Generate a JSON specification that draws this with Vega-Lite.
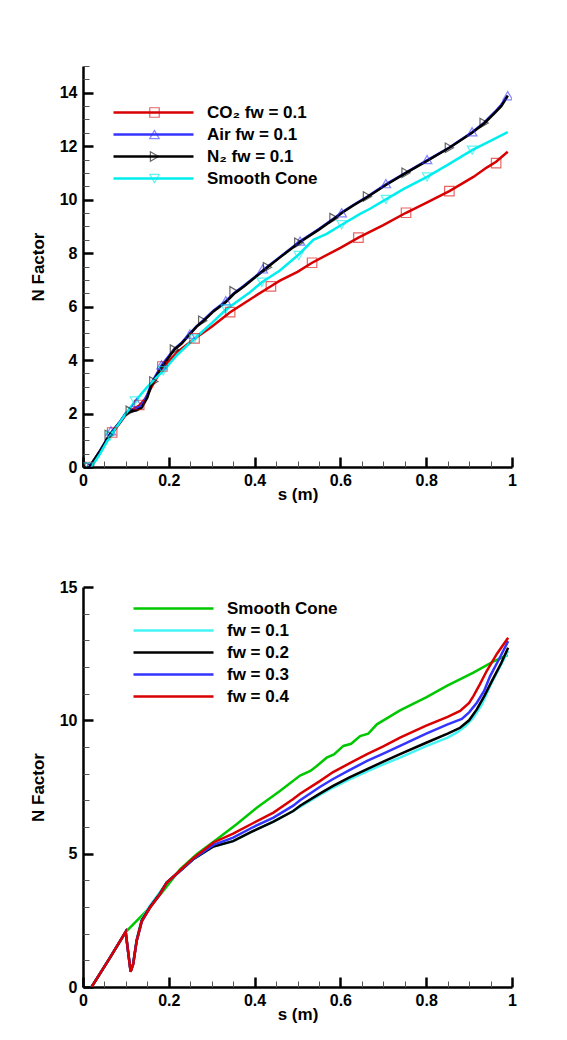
{
  "$schema": "https://vega.github.io/schema/vega-lite/v6.json",
  "padding": {"left": 29, "top": 65, "right": 10, "bottom": 10},
  "spacing": 77,
  "resolve": {
    "scale": {"color": "independent", "shape": "independent"},
    "legend": {"color": "independent", "shape": "independent"}
  },
  "config": {
    "view": {"stroke": null},
    "font": "Liberation Sans",
    "axis": {
      "grid": false,
      "zindex": 1,
      "domainColor": "black",
      "domainWidth": 2.5,
      "labelFont": "Liberation Sans",
      "labelFontWeight": "bold",
      "labelFontSize": 16,
      "labelColor": "black",
      "titleFont": "Liberation Sans",
      "titleFontWeight": "bold",
      "titleFontSize": 17,
      "titleColor": "black",
      "labelFlush": false,
      "labelOverlap": false,
      "labelBound": false,
      "ticks": true,
      "tickSize": -10,
      "tickWidth": 2.5,
      "tickColor": "black"
    },
    "legend": {
      "labelFont": "Liberation Sans",
      "labelFontWeight": "bold",
      "labelFontSize": 17,
      "labelColor": "black",
      "padding": 0,
      "rowPadding": 4
    }
  },
  "datasets": {
    "topLines": [
      {"k": "CO₂ fw = 0.1", "s": 0.015, "n": 0},
      {"k": "CO₂ fw = 0.1", "s": 0.04, "n": 0.6},
      {"k": "CO₂ fw = 0.1", "s": 0.068, "n": 1.25},
      {"k": "CO₂ fw = 0.1", "s": 0.1, "n": 1.95},
      {"k": "CO₂ fw = 0.1", "s": 0.115, "n": 2.15},
      {"k": "CO₂ fw = 0.1", "s": 0.131, "n": 2.3},
      {"k": "CO₂ fw = 0.1", "s": 0.145, "n": 2.55},
      {"k": "CO₂ fw = 0.1", "s": 0.16, "n": 3.0},
      {"k": "CO₂ fw = 0.1", "s": 0.185, "n": 3.7},
      {"k": "CO₂ fw = 0.1", "s": 0.22, "n": 4.3},
      {"k": "CO₂ fw = 0.1", "s": 0.26, "n": 4.8},
      {"k": "CO₂ fw = 0.1", "s": 0.3, "n": 5.25},
      {"k": "CO₂ fw = 0.1", "s": 0.343, "n": 5.79},
      {"k": "CO₂ fw = 0.1", "s": 0.4, "n": 6.38},
      {"k": "CO₂ fw = 0.1", "s": 0.438, "n": 6.76},
      {"k": "CO₂ fw = 0.1", "s": 0.459, "n": 6.97},
      {"k": "CO₂ fw = 0.1", "s": 0.5, "n": 7.3},
      {"k": "CO₂ fw = 0.1", "s": 0.534, "n": 7.64},
      {"k": "CO₂ fw = 0.1", "s": 0.6, "n": 8.2},
      {"k": "CO₂ fw = 0.1", "s": 0.642, "n": 8.58},
      {"k": "CO₂ fw = 0.1", "s": 0.7, "n": 9.05},
      {"k": "CO₂ fw = 0.1", "s": 0.753, "n": 9.51},
      {"k": "CO₂ fw = 0.1", "s": 0.8, "n": 9.88},
      {"k": "CO₂ fw = 0.1", "s": 0.854, "n": 10.32},
      {"k": "CO₂ fw = 0.1", "s": 0.91, "n": 10.85},
      {"k": "CO₂ fw = 0.1", "s": 0.941, "n": 11.2},
      {"k": "CO₂ fw = 0.1", "s": 0.963, "n": 11.42},
      {"k": "CO₂ fw = 0.1", "s": 0.99, "n": 11.79},
      {"k": "Air fw = 0.1", "s": 0.015, "n": 0},
      {"k": "Air fw = 0.1", "s": 0.04, "n": 0.62},
      {"k": "Air fw = 0.1", "s": 0.062, "n": 1.22},
      {"k": "Air fw = 0.1", "s": 0.085, "n": 1.67},
      {"k": "Air fw = 0.1", "s": 0.1, "n": 2.02},
      {"k": "Air fw = 0.1", "s": 0.11, "n": 2.1},
      {"k": "Air fw = 0.1", "s": 0.125, "n": 2.18},
      {"k": "Air fw = 0.1", "s": 0.137, "n": 2.3},
      {"k": "Air fw = 0.1", "s": 0.15, "n": 2.7},
      {"k": "Air fw = 0.1", "s": 0.16, "n": 3.15},
      {"k": "Air fw = 0.1", "s": 0.183, "n": 3.8},
      {"k": "Air fw = 0.1", "s": 0.2, "n": 4.15},
      {"k": "Air fw = 0.1", "s": 0.213, "n": 4.42},
      {"k": "Air fw = 0.1", "s": 0.23, "n": 4.65},
      {"k": "Air fw = 0.1", "s": 0.249, "n": 4.99},
      {"k": "Air fw = 0.1", "s": 0.265, "n": 5.27},
      {"k": "Air fw = 0.1", "s": 0.28, "n": 5.48},
      {"k": "Air fw = 0.1", "s": 0.304, "n": 5.85},
      {"k": "Air fw = 0.1", "s": 0.333, "n": 6.2},
      {"k": "Air fw = 0.1", "s": 0.352, "n": 6.5},
      {"k": "Air fw = 0.1", "s": 0.375, "n": 6.78},
      {"k": "Air fw = 0.1", "s": 0.4, "n": 7.1},
      {"k": "Air fw = 0.1", "s": 0.43, "n": 7.49},
      {"k": "Air fw = 0.1", "s": 0.46, "n": 7.87},
      {"k": "Air fw = 0.1", "s": 0.506, "n": 8.44},
      {"k": "Air fw = 0.1", "s": 0.55, "n": 8.9},
      {"k": "Air fw = 0.1", "s": 0.585, "n": 9.3},
      {"k": "Air fw = 0.1", "s": 0.603, "n": 9.52},
      {"k": "Air fw = 0.1", "s": 0.63, "n": 9.8},
      {"k": "Air fw = 0.1", "s": 0.663, "n": 10.12},
      {"k": "Air fw = 0.1", "s": 0.706, "n": 10.57},
      {"k": "Air fw = 0.1", "s": 0.753, "n": 11.01},
      {"k": "Air fw = 0.1", "s": 0.802, "n": 11.47},
      {"k": "Air fw = 0.1", "s": 0.854, "n": 11.95},
      {"k": "Air fw = 0.1", "s": 0.907, "n": 12.52},
      {"k": "Air fw = 0.1", "s": 0.935, "n": 12.88},
      {"k": "Air fw = 0.1", "s": 0.96, "n": 13.28},
      {"k": "Air fw = 0.1", "s": 0.975, "n": 13.55},
      {"k": "Air fw = 0.1", "s": 0.99, "n": 13.9},
      {"k": "N₂ fw = 0.1", "s": 0.015, "n": 0},
      {"k": "N₂ fw = 0.1", "s": 0.04, "n": 0.6},
      {"k": "N₂ fw = 0.1", "s": 0.062, "n": 1.2},
      {"k": "N₂ fw = 0.1", "s": 0.085, "n": 1.65},
      {"k": "N₂ fw = 0.1", "s": 0.1, "n": 2.0},
      {"k": "N₂ fw = 0.1", "s": 0.11, "n": 2.07},
      {"k": "N₂ fw = 0.1", "s": 0.125, "n": 2.12},
      {"k": "N₂ fw = 0.1", "s": 0.137, "n": 2.22},
      {"k": "N₂ fw = 0.1", "s": 0.15, "n": 2.6},
      {"k": "N₂ fw = 0.1", "s": 0.16, "n": 3.1},
      {"k": "N₂ fw = 0.1", "s": 0.183, "n": 3.72},
      {"k": "N₂ fw = 0.1", "s": 0.2, "n": 4.1},
      {"k": "N₂ fw = 0.1", "s": 0.213, "n": 4.39},
      {"k": "N₂ fw = 0.1", "s": 0.23, "n": 4.62},
      {"k": "N₂ fw = 0.1", "s": 0.249, "n": 4.97},
      {"k": "N₂ fw = 0.1", "s": 0.265, "n": 5.25},
      {"k": "N₂ fw = 0.1", "s": 0.28, "n": 5.45},
      {"k": "N₂ fw = 0.1", "s": 0.304, "n": 5.82},
      {"k": "N₂ fw = 0.1", "s": 0.333, "n": 6.17},
      {"k": "N₂ fw = 0.1", "s": 0.352, "n": 6.48},
      {"k": "N₂ fw = 0.1", "s": 0.375, "n": 6.75},
      {"k": "N₂ fw = 0.1", "s": 0.4, "n": 7.08},
      {"k": "N₂ fw = 0.1", "s": 0.43, "n": 7.47},
      {"k": "N₂ fw = 0.1", "s": 0.46, "n": 7.85},
      {"k": "N₂ fw = 0.1", "s": 0.506, "n": 8.42},
      {"k": "N₂ fw = 0.1", "s": 0.55, "n": 8.88},
      {"k": "N₂ fw = 0.1", "s": 0.585, "n": 9.28},
      {"k": "N₂ fw = 0.1", "s": 0.603, "n": 9.5},
      {"k": "N₂ fw = 0.1", "s": 0.63, "n": 9.78},
      {"k": "N₂ fw = 0.1", "s": 0.663, "n": 10.1},
      {"k": "N₂ fw = 0.1", "s": 0.706, "n": 10.55},
      {"k": "N₂ fw = 0.1", "s": 0.753, "n": 11.0},
      {"k": "N₂ fw = 0.1", "s": 0.802, "n": 11.45},
      {"k": "N₂ fw = 0.1", "s": 0.854, "n": 11.94},
      {"k": "N₂ fw = 0.1", "s": 0.907, "n": 12.5},
      {"k": "N₂ fw = 0.1", "s": 0.935, "n": 12.85},
      {"k": "N₂ fw = 0.1", "s": 0.96, "n": 13.25},
      {"k": "N₂ fw = 0.1", "s": 0.975, "n": 13.5},
      {"k": "N₂ fw = 0.1", "s": 0.99, "n": 13.88},
      {"k": "Smooth Cone", "s": 0.02, "n": 0},
      {"k": "Smooth Cone", "s": 0.04, "n": 0.5},
      {"k": "Smooth Cone", "s": 0.063, "n": 1.15},
      {"k": "Smooth Cone", "s": 0.085, "n": 1.65},
      {"k": "Smooth Cone", "s": 0.1, "n": 2.0},
      {"k": "Smooth Cone", "s": 0.121, "n": 2.45},
      {"k": "Smooth Cone", "s": 0.15, "n": 3.0},
      {"k": "Smooth Cone", "s": 0.187, "n": 3.6},
      {"k": "Smooth Cone", "s": 0.22, "n": 4.2},
      {"k": "Smooth Cone", "s": 0.259, "n": 4.79},
      {"k": "Smooth Cone", "s": 0.3, "n": 5.38},
      {"k": "Smooth Cone", "s": 0.333, "n": 5.88},
      {"k": "Smooth Cone", "s": 0.36, "n": 6.2},
      {"k": "Smooth Cone", "s": 0.39, "n": 6.55},
      {"k": "Smooth Cone", "s": 0.417, "n": 6.91},
      {"k": "Smooth Cone", "s": 0.459, "n": 7.35},
      {"k": "Smooth Cone", "s": 0.503, "n": 7.95},
      {"k": "Smooth Cone", "s": 0.537, "n": 8.5},
      {"k": "Smooth Cone", "s": 0.568, "n": 8.72},
      {"k": "Smooth Cone", "s": 0.603, "n": 9.06},
      {"k": "Smooth Cone", "s": 0.646, "n": 9.47},
      {"k": "Smooth Cone", "s": 0.669, "n": 9.66},
      {"k": "Smooth Cone", "s": 0.706, "n": 10.01},
      {"k": "Smooth Cone", "s": 0.75, "n": 10.42},
      {"k": "Smooth Cone", "s": 0.802, "n": 10.85},
      {"k": "Smooth Cone", "s": 0.85, "n": 11.3},
      {"k": "Smooth Cone", "s": 0.907, "n": 11.85},
      {"k": "Smooth Cone", "s": 0.95, "n": 12.2},
      {"k": "Smooth Cone", "s": 0.99, "n": 12.53}
    ],
    "topMarks": [
      {"k": "CO₂ fw = 0.1", "s": 0.014, "n": 0},
      {"k": "CO₂ fw = 0.1", "s": 0.068, "n": 1.29},
      {"k": "CO₂ fw = 0.1", "s": 0.131, "n": 2.32},
      {"k": "CO₂ fw = 0.1", "s": 0.185, "n": 3.76},
      {"k": "CO₂ fw = 0.1", "s": 0.26, "n": 4.81},
      {"k": "CO₂ fw = 0.1", "s": 0.343, "n": 5.79},
      {"k": "CO₂ fw = 0.1", "s": 0.438, "n": 6.76},
      {"k": "CO₂ fw = 0.1", "s": 0.534, "n": 7.64},
      {"k": "CO₂ fw = 0.1", "s": 0.642, "n": 8.58},
      {"k": "CO₂ fw = 0.1", "s": 0.753, "n": 9.51},
      {"k": "CO₂ fw = 0.1", "s": 0.854, "n": 10.32},
      {"k": "CO₂ fw = 0.1", "s": 0.963, "n": 11.37},
      {"k": "Air fw = 0.1", "s": 0.014, "n": 0},
      {"k": "Air fw = 0.1", "s": 0.065, "n": 1.35},
      {"k": "Air fw = 0.1", "s": 0.125, "n": 2.41},
      {"k": "Air fw = 0.1", "s": 0.183, "n": 3.82},
      {"k": "Air fw = 0.1", "s": 0.249, "n": 4.97},
      {"k": "Air fw = 0.1", "s": 0.333, "n": 6.22},
      {"k": "Air fw = 0.1", "s": 0.419, "n": 7.41},
      {"k": "Air fw = 0.1", "s": 0.506, "n": 8.45},
      {"k": "Air fw = 0.1", "s": 0.603, "n": 9.51},
      {"k": "Air fw = 0.1", "s": 0.706, "n": 10.6},
      {"k": "Air fw = 0.1", "s": 0.802, "n": 11.5},
      {"k": "Air fw = 0.1", "s": 0.907, "n": 12.54},
      {"k": "Air fw = 0.1", "s": 0.99, "n": 13.89},
      {"k": "N₂ fw = 0.1", "s": 0.014, "n": 0},
      {"k": "N₂ fw = 0.1", "s": 0.061, "n": 1.2},
      {"k": "N₂ fw = 0.1", "s": 0.11, "n": 2.1},
      {"k": "N₂ fw = 0.1", "s": 0.165, "n": 3.2},
      {"k": "N₂ fw = 0.1", "s": 0.213, "n": 4.39},
      {"k": "N₂ fw = 0.1", "s": 0.279, "n": 5.47},
      {"k": "N₂ fw = 0.1", "s": 0.352, "n": 6.57},
      {"k": "N₂ fw = 0.1", "s": 0.43, "n": 7.47},
      {"k": "N₂ fw = 0.1", "s": 0.503, "n": 8.39},
      {"k": "N₂ fw = 0.1", "s": 0.585, "n": 9.31},
      {"k": "N₂ fw = 0.1", "s": 0.663, "n": 10.12},
      {"k": "N₂ fw = 0.1", "s": 0.753, "n": 11.01},
      {"k": "N₂ fw = 0.1", "s": 0.854, "n": 11.94},
      {"k": "N₂ fw = 0.1", "s": 0.935, "n": 12.87},
      {"k": "Smooth Cone", "s": 0.014, "n": 0},
      {"k": "Smooth Cone", "s": 0.063, "n": 1.16},
      {"k": "Smooth Cone", "s": 0.121, "n": 2.47},
      {"k": "Smooth Cone", "s": 0.187, "n": 3.6},
      {"k": "Smooth Cone", "s": 0.259, "n": 4.79},
      {"k": "Smooth Cone", "s": 0.333, "n": 5.91},
      {"k": "Smooth Cone", "s": 0.417, "n": 6.91},
      {"k": "Smooth Cone", "s": 0.503, "n": 7.91},
      {"k": "Smooth Cone", "s": 0.603, "n": 9.06},
      {"k": "Smooth Cone", "s": 0.706, "n": 10.01},
      {"k": "Smooth Cone", "s": 0.802, "n": 10.85},
      {"k": "Smooth Cone", "s": 0.907, "n": 11.85}
    ],
    "bottomLines": [
      {"k": "Smooth Cone", "s": 0.02, "n": 0},
      {"k": "Smooth Cone", "s": 0.063, "n": 1.1},
      {"k": "Smooth Cone", "s": 0.1, "n": 2.07},
      {"k": "Smooth Cone", "s": 0.148, "n": 2.85},
      {"k": "Smooth Cone", "s": 0.187, "n": 3.6},
      {"k": "Smooth Cone", "s": 0.226, "n": 4.41},
      {"k": "Smooth Cone", "s": 0.265, "n": 4.98},
      {"k": "Smooth Cone", "s": 0.312, "n": 5.54},
      {"k": "Smooth Cone", "s": 0.358, "n": 6.1},
      {"k": "Smooth Cone", "s": 0.405, "n": 6.72},
      {"k": "Smooth Cone", "s": 0.459, "n": 7.35},
      {"k": "Smooth Cone", "s": 0.506, "n": 7.93},
      {"k": "Smooth Cone", "s": 0.53, "n": 8.1},
      {"k": "Smooth Cone", "s": 0.545, "n": 8.29},
      {"k": "Smooth Cone", "s": 0.568, "n": 8.6},
      {"k": "Smooth Cone", "s": 0.585, "n": 8.72},
      {"k": "Smooth Cone", "s": 0.607, "n": 9.04},
      {"k": "Smooth Cone", "s": 0.625, "n": 9.12},
      {"k": "Smooth Cone", "s": 0.646, "n": 9.41},
      {"k": "Smooth Cone", "s": 0.665, "n": 9.5},
      {"k": "Smooth Cone", "s": 0.685, "n": 9.85},
      {"k": "Smooth Cone", "s": 0.739, "n": 10.37},
      {"k": "Smooth Cone", "s": 0.801, "n": 10.87},
      {"k": "Smooth Cone", "s": 0.848, "n": 11.29},
      {"k": "Smooth Cone", "s": 0.91, "n": 11.79},
      {"k": "Smooth Cone", "s": 0.956, "n": 12.2},
      {"k": "Smooth Cone", "s": 0.99, "n": 12.45},
      {"k": "fw = 0.1", "s": 0.02, "n": 0},
      {"k": "fw = 0.1", "s": 0.063, "n": 1.1},
      {"k": "fw = 0.1", "s": 0.0995, "n": 2.07},
      {"k": "fw = 0.1", "s": 0.104, "n": 1.47},
      {"k": "fw = 0.1", "s": 0.111, "n": 0.6},
      {"k": "fw = 0.1", "s": 0.117, "n": 0.9},
      {"k": "fw = 0.1", "s": 0.125, "n": 1.78},
      {"k": "fw = 0.1", "s": 0.137, "n": 2.55},
      {"k": "fw = 0.1", "s": 0.156, "n": 3.05},
      {"k": "fw = 0.1", "s": 0.179, "n": 3.55},
      {"k": "fw = 0.1", "s": 0.195, "n": 3.93},
      {"k": "fw = 0.1", "s": 0.226, "n": 4.35},
      {"k": "fw = 0.1", "s": 0.257, "n": 4.79},
      {"k": "fw = 0.1", "s": 0.304, "n": 5.27},
      {"k": "fw = 0.1", "s": 0.35, "n": 5.47},
      {"k": "fw = 0.1", "s": 0.397, "n": 5.85},
      {"k": "fw = 0.1", "s": 0.444, "n": 6.2},
      {"k": "fw = 0.1", "s": 0.49, "n": 6.6},
      {"k": "fw = 0.1", "s": 0.552, "n": 7.2},
      {"k": "fw = 0.1", "s": 0.583, "n": 7.48},
      {"k": "fw = 0.1", "s": 0.62, "n": 7.78},
      {"k": "fw = 0.1", "s": 0.661, "n": 8.08},
      {"k": "fw = 0.1", "s": 0.7, "n": 8.35},
      {"k": "fw = 0.1", "s": 0.739, "n": 8.6},
      {"k": "fw = 0.1", "s": 0.8, "n": 9.03},
      {"k": "fw = 0.1", "s": 0.85, "n": 9.35},
      {"k": "fw = 0.1", "s": 0.871, "n": 9.54},
      {"k": "fw = 0.1", "s": 0.891, "n": 9.78},
      {"k": "fw = 0.1", "s": 0.91, "n": 10.1},
      {"k": "fw = 0.1", "s": 0.93, "n": 10.6},
      {"k": "fw = 0.1", "s": 0.949, "n": 11.29},
      {"k": "fw = 0.1", "s": 0.97, "n": 11.95},
      {"k": "fw = 0.1", "s": 0.991, "n": 12.6},
      {"k": "fw = 0.2", "s": 0.02, "n": 0},
      {"k": "fw = 0.2", "s": 0.063, "n": 1.1},
      {"k": "fw = 0.2", "s": 0.0995, "n": 2.07},
      {"k": "fw = 0.2", "s": 0.104, "n": 1.47},
      {"k": "fw = 0.2", "s": 0.111, "n": 0.58},
      {"k": "fw = 0.2", "s": 0.117, "n": 0.87},
      {"k": "fw = 0.2", "s": 0.125, "n": 1.74},
      {"k": "fw = 0.2", "s": 0.137, "n": 2.5},
      {"k": "fw = 0.2", "s": 0.156, "n": 3.0},
      {"k": "fw = 0.2", "s": 0.179, "n": 3.5},
      {"k": "fw = 0.2", "s": 0.195, "n": 3.92},
      {"k": "fw = 0.2", "s": 0.226, "n": 4.35},
      {"k": "fw = 0.2", "s": 0.257, "n": 4.79},
      {"k": "fw = 0.2", "s": 0.304, "n": 5.27},
      {"k": "fw = 0.2", "s": 0.35, "n": 5.47},
      {"k": "fw = 0.2", "s": 0.397, "n": 5.85},
      {"k": "fw = 0.2", "s": 0.444, "n": 6.2},
      {"k": "fw = 0.2", "s": 0.49, "n": 6.6},
      {"k": "fw = 0.2", "s": 0.506, "n": 6.8},
      {"k": "fw = 0.2", "s": 0.552, "n": 7.25},
      {"k": "fw = 0.2", "s": 0.583, "n": 7.54},
      {"k": "fw = 0.2", "s": 0.62, "n": 7.85},
      {"k": "fw = 0.2", "s": 0.661, "n": 8.16},
      {"k": "fw = 0.2", "s": 0.7, "n": 8.45},
      {"k": "fw = 0.2", "s": 0.739, "n": 8.73},
      {"k": "fw = 0.2", "s": 0.8, "n": 9.16},
      {"k": "fw = 0.2", "s": 0.85, "n": 9.5},
      {"k": "fw = 0.2", "s": 0.879, "n": 9.72},
      {"k": "fw = 0.2", "s": 0.9, "n": 10.0},
      {"k": "fw = 0.2", "s": 0.918, "n": 10.41},
      {"k": "fw = 0.2", "s": 0.935, "n": 10.9},
      {"k": "fw = 0.2", "s": 0.953, "n": 11.47},
      {"k": "fw = 0.2", "s": 0.975, "n": 12.15},
      {"k": "fw = 0.2", "s": 0.991, "n": 12.72},
      {"k": "fw = 0.3", "s": 0.02, "n": 0},
      {"k": "fw = 0.3", "s": 0.063, "n": 1.1},
      {"k": "fw = 0.3", "s": 0.0995, "n": 2.07},
      {"k": "fw = 0.3", "s": 0.104, "n": 1.47},
      {"k": "fw = 0.3", "s": 0.111, "n": 0.58},
      {"k": "fw = 0.3", "s": 0.117, "n": 0.86},
      {"k": "fw = 0.3", "s": 0.125, "n": 1.72},
      {"k": "fw = 0.3", "s": 0.137, "n": 2.45},
      {"k": "fw = 0.3", "s": 0.156, "n": 2.97},
      {"k": "fw = 0.3", "s": 0.179, "n": 3.47},
      {"k": "fw = 0.3", "s": 0.195, "n": 3.91},
      {"k": "fw = 0.3", "s": 0.226, "n": 4.35},
      {"k": "fw = 0.3", "s": 0.257, "n": 4.8},
      {"k": "fw = 0.3", "s": 0.304, "n": 5.33},
      {"k": "fw = 0.3", "s": 0.35, "n": 5.6},
      {"k": "fw = 0.3", "s": 0.397, "n": 6.0},
      {"k": "fw = 0.3", "s": 0.444, "n": 6.35},
      {"k": "fw = 0.3", "s": 0.49, "n": 6.8},
      {"k": "fw = 0.3", "s": 0.506, "n": 7.0},
      {"k": "fw = 0.3", "s": 0.552, "n": 7.5},
      {"k": "fw = 0.3", "s": 0.583, "n": 7.8},
      {"k": "fw = 0.3", "s": 0.62, "n": 8.12},
      {"k": "fw = 0.3", "s": 0.661, "n": 8.47},
      {"k": "fw = 0.3", "s": 0.7, "n": 8.75},
      {"k": "fw = 0.3", "s": 0.739, "n": 9.04},
      {"k": "fw = 0.3", "s": 0.8, "n": 9.5},
      {"k": "fw = 0.3", "s": 0.85, "n": 9.85},
      {"k": "fw = 0.3", "s": 0.883, "n": 10.05},
      {"k": "fw = 0.3", "s": 0.9, "n": 10.3},
      {"k": "fw = 0.3", "s": 0.918, "n": 10.66},
      {"k": "fw = 0.3", "s": 0.935, "n": 11.1},
      {"k": "fw = 0.3", "s": 0.949, "n": 11.66},
      {"k": "fw = 0.3", "s": 0.97, "n": 12.3},
      {"k": "fw = 0.3", "s": 0.991, "n": 12.97},
      {"k": "fw = 0.4", "s": 0.02, "n": 0},
      {"k": "fw = 0.4", "s": 0.063, "n": 1.1},
      {"k": "fw = 0.4", "s": 0.0995, "n": 2.07},
      {"k": "fw = 0.4", "s": 0.104, "n": 1.47},
      {"k": "fw = 0.4", "s": 0.111, "n": 0.57},
      {"k": "fw = 0.4", "s": 0.117, "n": 0.85},
      {"k": "fw = 0.4", "s": 0.125, "n": 1.72},
      {"k": "fw = 0.4", "s": 0.137, "n": 2.47},
      {"k": "fw = 0.4", "s": 0.156, "n": 2.97},
      {"k": "fw = 0.4", "s": 0.179, "n": 3.47},
      {"k": "fw = 0.4", "s": 0.195, "n": 3.91},
      {"k": "fw = 0.4", "s": 0.226, "n": 4.37},
      {"k": "fw = 0.4", "s": 0.257, "n": 4.83},
      {"k": "fw = 0.4", "s": 0.304, "n": 5.42},
      {"k": "fw = 0.4", "s": 0.35, "n": 5.75},
      {"k": "fw = 0.4", "s": 0.397, "n": 6.15},
      {"k": "fw = 0.4", "s": 0.444, "n": 6.54},
      {"k": "fw = 0.4", "s": 0.49, "n": 7.05},
      {"k": "fw = 0.4", "s": 0.506, "n": 7.25},
      {"k": "fw = 0.4", "s": 0.552, "n": 7.72},
      {"k": "fw = 0.4", "s": 0.583, "n": 8.06},
      {"k": "fw = 0.4", "s": 0.62, "n": 8.38},
      {"k": "fw = 0.4", "s": 0.661, "n": 8.72},
      {"k": "fw = 0.4", "s": 0.7, "n": 9.02},
      {"k": "fw = 0.4", "s": 0.739, "n": 9.35},
      {"k": "fw = 0.4", "s": 0.8, "n": 9.8},
      {"k": "fw = 0.4", "s": 0.85, "n": 10.13},
      {"k": "fw = 0.4", "s": 0.879, "n": 10.35},
      {"k": "fw = 0.4", "s": 0.9, "n": 10.65},
      {"k": "fw = 0.4", "s": 0.91, "n": 10.91},
      {"k": "fw = 0.4", "s": 0.925, "n": 11.35},
      {"k": "fw = 0.4", "s": 0.941, "n": 11.85},
      {"k": "fw = 0.4", "s": 0.965, "n": 12.5},
      {"k": "fw = 0.4", "s": 0.991, "n": 13.1}
    ]
  },
  "vconcat": [
    {
      "width": 429,
      "height": 401,
      "resolve": {
        "legend": {"color": "independent", "shape": "independent"},
        "axis": {"x": "independent", "y": "independent"}
      },
      "layer": [
        {
          "data": {"name": "topLines"},
          "mark": {"type": "line", "strokeWidth": 2.5, "clip": true},
          "encoding": {
            "x": {
              "field": "s", "type": "quantitative",
              "scale": {"domain": [0, 1], "nice": false},
              "axis": {
                "orient": "bottom",
                "title": "s (m)",
                "values": [0, 0.2, 0.4, 0.6, 0.8, 1],
                "format": "~g",
                "labelPadding": 15,
                "titlePadding": -2
              }
            },
            "y": {
              "field": "n", "type": "quantitative",
              "scale": {"domain": [0, 15], "nice": false},
              "axis": {
                "orient": "left",
                "title": "N Factor",
                "values": [0, 2, 4, 6, 8, 10, 12, 14],
                "labelPadding": 16,
                "titlePadding": 12
              }
            },
            "color": {
              "field": "k", "type": "nominal", "sort": null,
              "scale": {
                "domain": ["CO₂ fw = 0.1", "Air fw = 0.1", "N₂ fw = 0.1", "Smooth Cone"],
                "range": ["#d80000", "#3434ff", "#000000", "#00eeee"]
              },
              "legend": {
                "title": null, "orient": "none", "legendX": 62, "legendY": 38,
                "symbolType": "M-8,0H8", "symbolSize": 100, "symbolStrokeWidth": 2.5,
                "labelOffset": 45
              }
            }
          }
        },
        {
          "data": {"name": "topMarks"},
          "mark": {"type": "point", "filled": false, "size": 90, "strokeWidth": 1.2, "opacity": 0.6, "clip": true},
          "encoding": {
            "x": {
              "field": "s", "type": "quantitative",
              "axis": {
                "orient": "bottom", "title": null, "labels": false, "domain": false,
                "values": [0.05, 0.1, 0.15, 0.25, 0.3, 0.35, 0.45, 0.5, 0.55, 0.65, 0.7, 0.75, 0.85, 0.9, 0.95],
                "tickSize": -6, "tickWidth": 1, "tickColor": "#555555"
              }
            },
            "y": {
              "field": "n", "type": "quantitative",
              "axis": {
                "orient": "left", "title": null, "labels": false, "domain": false,
                "values": [0.5, 1, 1.5, 2.5, 3, 3.5, 4.5, 5, 5.5, 6.5, 7, 7.5, 8.5, 9, 9.5, 10.5, 11, 11.5, 12.5, 13, 13.5, 14.5, 15],
                "tickSize": -6, "tickWidth": 1, "tickColor": "#555555"
              }
            },
            "color": {
              "field": "k", "type": "nominal", "sort": null,
              "legend": {
                "title": null, "orient": "none", "legendX": 63, "legendY": 38,
                "symbolSize": 90, "symbolStrokeWidth": 1.2, "labelExpr": "' '", "labelOffset": 0
              }
            },
            "shape": {
              "field": "k", "type": "nominal", "sort": null,
              "scale": {
                "domain": ["CO₂ fw = 0.1", "Air fw = 0.1", "N₂ fw = 0.1", "Smooth Cone"],
                "range": ["square", "triangle-up", "triangle-right", "triangle-down"]
              },
              "legend": {
                "title": null, "orient": "none", "legendX": 63, "legendY": 38,
                "symbolSize": 90, "symbolStrokeWidth": 1.2, "labelExpr": "' '", "labelOffset": 0
              }
            }
          }
        }
      ]
    },
    {
      "width": 429,
      "height": 400,
      "data": {"name": "bottomLines"},
      "resolve": {"axis": {"x": "independent", "y": "independent"}},
      "layer": [
        {
          "mark": {"type": "line", "strokeWidth": 2.5, "clip": true},
          "encoding": {
            "x": {
              "field": "s", "type": "quantitative",
              "scale": {"domain": [0, 1], "nice": false},
              "axis": {
                "orient": "bottom",
                "title": "s (m)",
                "values": [0, 0.2, 0.4, 0.6, 0.8, 1],
                "format": "~g",
                "labelPadding": 15,
                "titlePadding": -2
              }
            },
            "y": {
              "field": "n", "type": "quantitative",
              "scale": {"domain": [0, 15], "nice": false},
              "axis": {
                "orient": "left",
                "title": "N Factor",
                "values": [0, 5, 10, 15],
                "labelPadding": 16,
                "titlePadding": 12
              }
            },
            "color": {
              "field": "k", "type": "nominal", "sort": null,
              "scale": {
                "domain": ["Smooth Cone", "fw = 0.1", "fw = 0.2", "fw = 0.3", "fw = 0.4"],
                "range": ["#00c800", "#44f4f4", "#000000", "#3434ff", "#d80000"]
              },
              "legend": {
                "title": null, "orient": "none", "legendX": 82, "legendY": 13,
                "symbolType": "M-8,0H8", "symbolSize": 100, "symbolStrokeWidth": 2.5,
                "labelOffset": 45
              }
            }
          }
        },
        {
          "mark": {"type": "point", "opacity": 0, "size": 1},
          "encoding": {
            "x": {
              "field": "s", "type": "quantitative",
              "axis": {
                "orient": "bottom", "title": null, "labels": false, "domain": false,
                "values": [0.05, 0.1, 0.15, 0.25, 0.3, 0.35, 0.45, 0.5, 0.55, 0.65, 0.7, 0.75, 0.85, 0.9, 0.95],
                "tickSize": -6, "tickWidth": 1, "tickColor": "#555555"
              }
            },
            "y": {
              "field": "n", "type": "quantitative",
              "axis": {
                "orient": "left", "title": null, "labels": false, "domain": false,
                "values": [1, 2, 3, 4, 6, 7, 8, 9, 11, 12, 13, 14],
                "tickSize": -6, "tickWidth": 1, "tickColor": "#555555"
              }
            }
          }
        }
      ]
    }
  ]
}
